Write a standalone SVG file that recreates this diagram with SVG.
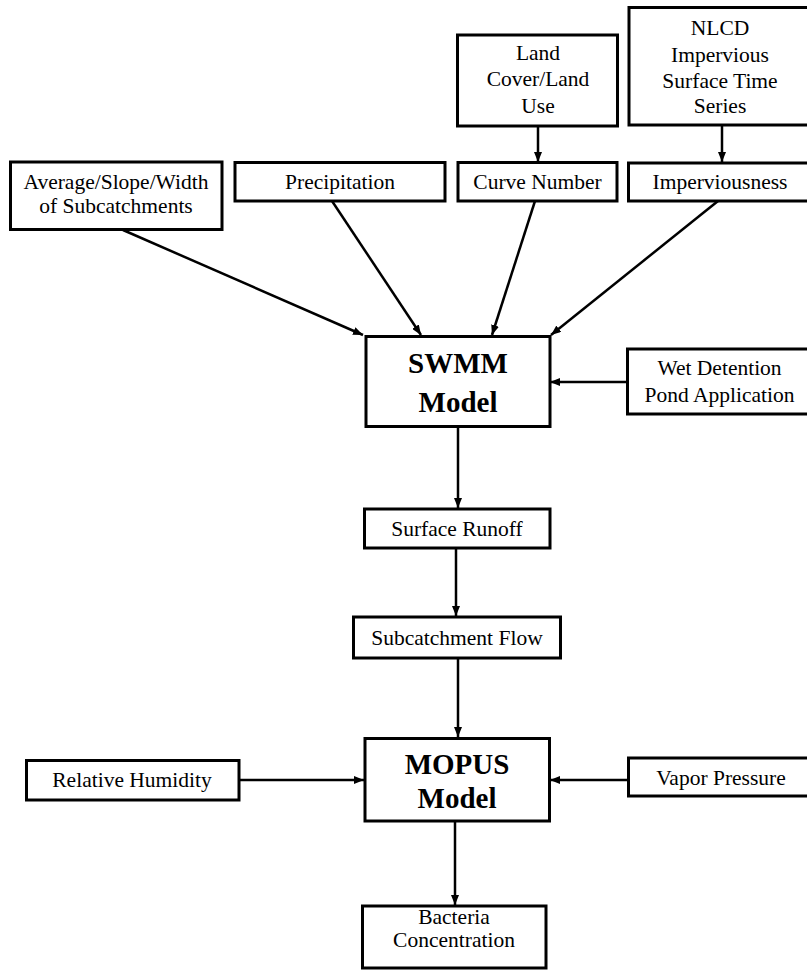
<svg xmlns="http://www.w3.org/2000/svg" width="807" height="970" viewBox="0 0 807 970">
<style>
.box{fill:#fff;stroke:#000;stroke-width:3}
text{font-family:"Liberation Serif","Times New Roman","DejaVu Serif",serif;fill:#000;text-anchor:middle}
.t{font-size:21.5px;font-weight:normal}
.b{font-size:29px;font-weight:bold}
.c{stroke:#000;stroke-width:2.5;fill:none;marker-end:url(#ah)}
</style>
<defs>
<marker id="ah" markerUnits="userSpaceOnUse" markerWidth="10" markerHeight="8" viewBox="0 0 10 8" refX="10" refY="4" orient="auto">
<path d="M0,0 L10,4 L0,8 z" fill="#000"/>
</marker>
</defs>
<rect width="807" height="970" fill="#fff"/>
<g id="connectors">
<line class="c" x1="123" y1="230" x2="363" y2="335"/>
<line class="c" x1="332" y1="201" x2="421" y2="335"/>
<line class="c" x1="535" y1="201" x2="492" y2="335"/>
<line class="c" x1="718" y1="201" x2="551" y2="335"/>
<line class="c" x1="538" y1="126" x2="538" y2="162"/>
<line class="c" x1="722" y1="125" x2="722" y2="162"/>
<line class="c" x1="627" y1="382" x2="550" y2="382"/>
<line class="c" x1="458" y1="427" x2="458" y2="508"/>
<line class="c" x1="456" y1="548" x2="456" y2="616"/>
<line class="c" x1="458" y1="658" x2="458" y2="737"/>
<line class="c" x1="239" y1="780" x2="364" y2="780"/>
<line class="c" x1="628" y1="780" x2="550" y2="780"/>
<line class="c" x1="455" y1="821" x2="455" y2="905"/>
</g>
<g id="land">
<rect class="box" x="457.5" y="35" width="160" height="91"/>
<text class="t" x="538" y="59.5" font-family="Liberation Serif, serif">Land</text>
<text class="t" x="538" y="86">Cover/Land</text>
<text class="t" x="538" y="112.5">Use</text>
</g>
<g id="nlcd">
<rect class="box" x="629" y="7.5" width="183" height="117.5"/>
<text class="t" x="720" y="35">NLCD</text>
<text class="t" x="720" y="61.5">Impervious</text>
<text class="t" x="720" y="87.5">Surface Time</text>
<text class="t" x="720" y="113">Series</text>
</g>
<g id="avg">
<rect class="box" x="10.5" y="162" width="211.5" height="67.5"/>
<text class="t" x="116" y="189">Average/Slope/Width</text>
<text class="t" x="116" y="213">of Subcatchments</text>
</g>
<g id="precip">
<rect class="box" x="235" y="162.5" width="210" height="38.5"/>
<text class="t" x="340" y="188.5">Precipitation</text>
</g>
<g id="curve">
<rect class="box" x="458" y="162.5" width="159" height="38.5"/>
<text class="t" x="537.5" y="188.5">Curve Number</text>
</g>
<g id="imperv">
<rect class="box" x="628.5" y="163" width="183.5" height="38"/>
<text class="t" x="720" y="189">Imperviousness</text>
</g>
<g id="swmm">
<rect class="box" x="366" y="336.5" width="184" height="90"/>
<text class="b" x="458" y="373">SWMM</text>
<text class="b" x="458" y="412">Model</text>
</g>
<g id="wet">
<rect class="box" x="627.5" y="349" width="184.5" height="65"/>
<text class="t" x="719.5" y="375">Wet Detention</text>
<text class="t" x="719.5" y="401.5">Pond Application</text>
</g>
<g id="runoff">
<rect class="box" x="364.5" y="509" width="185.5" height="39"/>
<text class="t" x="457" y="536">Surface Runoff</text>
</g>
<g id="subflow">
<rect class="box" x="353.5" y="617" width="207" height="41"/>
<text class="t" x="457" y="645">Subcatchment Flow</text>
</g>
<g id="mopus">
<rect class="box" x="365" y="738.5" width="184.5" height="82.5"/>
<text class="b" x="457" y="774">MOPUS</text>
<text class="b" x="457" y="807.5">Model</text>
</g>
<g id="rh">
<rect class="box" x="26.5" y="760.5" width="212.5" height="39.5"/>
<text class="t" x="132" y="787">Relative Humidity</text>
</g>
<g id="vp">
<rect class="box" x="628.5" y="758" width="183.5" height="38"/>
<text class="t" x="721" y="785">Vapor Pressure</text>
</g>
<g id="bacteria">
<rect class="box" x="362.5" y="906" width="183.5" height="62"/>
<text class="t" x="454" y="923.5">Bacteria</text>
<text class="t" x="454" y="947">Concentration</text>
</g>
</svg>
